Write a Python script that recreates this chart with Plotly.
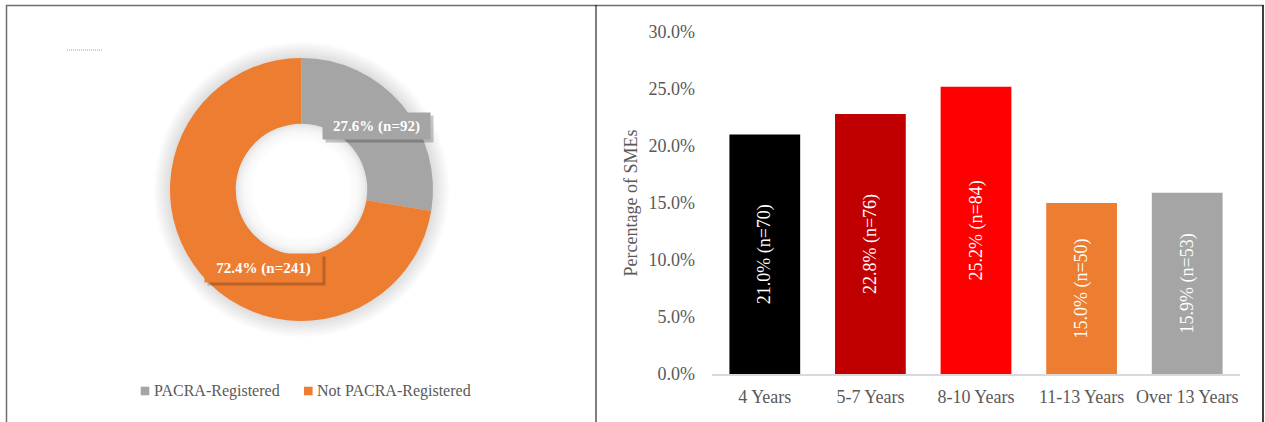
import plotly.graph_objects as go

W, H = 1265, 422

# ---------------- data ----------------
pie_labels = ["PACRA-Registered", "Not PACRA-Registered"]
pie_counts = [92, 241]
pie_pct = [27.6, 72.4]
pie_colors = ["#A5A5A5", "#ED7D31"]

bar_categories = ["4 Years", "5-7 Years", "8-10 Years", "11-13 Years", "Over 13 Years"]
bar_pct = [21.0, 22.8, 25.2, 15.0, 15.9]
bar_n = [70, 76, 84, 50, 53]
bar_colors = ["#000000", "#C00000", "#FF0000", "#ED7D31", "#A5A5A5"]
y_ticks = [0.0, 5.0, 10.0, 15.0, 20.0, 25.0, 30.0]

FONT = "Liberation Serif, Times New Roman, serif"
GREY_TXT = "#595959"


def px(x):
    return x / W


def py(y):
    return 1 - y / H


fig = go.Figure()

# ---------------- donut ----------------
cx, cy, R, r = 301.5, 189.5, 131.5, 65.8
fig.add_trace(go.Pie(
    labels=pie_labels,
    values=pie_counts,
    marker=dict(colors=pie_colors, line=dict(width=0)),
    hole=r / R,
    sort=False,
    direction="clockwise",
    rotation=0,
    textinfo="none",
    showlegend=False,
    domain=dict(x=[px(cx - R), px(cx + R)], y=[py(cy + R), py(cy - R)]),
))

shapes = []


def circle(rr, color):
    return dict(type="circle", xref="paper", yref="paper",
                x0=px(cx - rr), x1=px(cx + rr), y0=py(cy + rr), y1=py(cy - rr),
                fillcolor=color, line=dict(width=0), layer="below")


# soft glow around donut
for k in range(16, -1, -2):
    shapes.append(circle(R + k, "rgba(0,0,0,0.014)"))
# inner glow inside hole
for k in range(0, 16, 2):
    shapes.append(circle(r - k, "rgba(255,255,255,0.28)"))
shapes.append(circle(r - 16, "#FFFFFF"))

annotations = []

# data labels on donut (with drop shadow)
label_boxes = [
    dict(cxl=376.5, cyl=126, w=107, h=26),
    dict(cxl=263.5, cyl=267.5, w=117, h=28),
]
for i, b in enumerate(label_boxes):
    txt = f"<b>{pie_pct[i]:.1f}% (n={pie_counts[i]})</b>"
    annotations.append(dict(
        x=px(b["cxl"] + 3), y=py(b["cyl"] + 3), xref="paper", yref="paper",
        text=" ", showarrow=False, width=b["w"], height=b["h"], borderpad=0,
        bgcolor="rgba(0,0,0,0.22)", xanchor="center", yanchor="middle"))
    annotations.append(dict(
        x=px(b["cxl"]), y=py(b["cyl"]), xref="paper", yref="paper",
        text=txt, showarrow=False, width=b["w"], height=b["h"], borderpad=0,
        bgcolor=pie_colors[i], font=dict(family=FONT, size=15, color="white"),
        xanchor="center", yanchor="middle"))

# manual legend
legend_pos = [(140.7, 151.7), (304.0, 315.0)]
for i, (sx, tx) in enumerate(legend_pos):
    shapes.append(dict(type="rect", xref="paper", yref="paper",
                       x0=px(sx), x1=px(sx + 8.6), y0=py(395.3), y1=py(386.7),
                       fillcolor=pie_colors[i], line=dict(width=0)))
    annotations.append(dict(x=px(tx), y=py(391), xref="paper", yref="paper",
                            text=pie_labels[i], showarrow=False,
                            xanchor="left", yanchor="middle",
                            font=dict(family=FONT, size=16, color=GREY_TXT)))

# dotted line top-left
shapes.append(dict(type="line", xref="paper", yref="paper",
                   x0=px(67), x1=px(102), y0=py(50), y1=py(50),
                   line=dict(color="#9A9A9A", width=1, dash="1px,1px")))

# ---------------- bar chart ----------------
fig.add_trace(go.Bar(
    x=bar_categories,
    y=[p / 100 for p in bar_pct],
    marker=dict(color=bar_colors, line=dict(width=0)),
    text=[f"{p:.1f}% (n={n})" for p, n in zip(bar_pct, bar_n)],
    textposition="inside",
    insidetextanchor="middle",
    textangle=-90,
    textfont=dict(family=FONT, size=18, color="white"),
    constraintext="none",
    showlegend=False,
    hoverinfo="skip",
    xaxis="x", yaxis="y",
))

fig.update_layout(
    width=W, height=H,
    margin=dict(l=0, r=0, t=0, b=0, pad=0),
    paper_bgcolor="white",
    plot_bgcolor="rgba(0,0,0,0)",
    bargap=0.33,
    showlegend=False,
    font=dict(family=FONT, color=GREY_TXT),
    xaxis=dict(
        domain=[px(712), px(1240)],
        automargin=False,
        showgrid=False, zeroline=False,
        showline=True, linecolor="#D9D9D9", linewidth=1.5,
        ticks="", ticklabelstandoff=6,
        tickfont=dict(family=FONT, size=18, color=GREY_TXT),
        fixedrange=True,
    ),
    yaxis=dict(
        domain=[py(374), py(32)],
        automargin=False,
        range=[0, 0.30],
        tickvals=[v / 100 for v in y_ticks],
        ticktext=[f"{v:.1f}%" for v in y_ticks],
        showgrid=False, zeroline=False, showline=False,
        ticks="", ticklabelstandoff=16,
        tickfont=dict(family=FONT, size=18, color=GREY_TXT),
        title=dict(text="Percentage of SMEs", standoff=6,
                   font=dict(family=FONT, size=18, color=GREY_TXT)),
        fixedrange=True,
    ),
)

# ---------------- frame ----------------
shapes += [
    dict(type="line", xref="paper", yref="paper", x0=px(6), x1=px(1263.5), y0=py(5.5), y1=py(5.5),
         line=dict(color="#6E6E6E", width=1.5), layer="above"),
    dict(type="line", xref="paper", yref="paper", x0=px(6.5), x1=px(6.5), y0=py(5), y1=0,
         line=dict(color="#6E6E6E", width=1.5), layer="above"),
    dict(type="line", xref="paper", yref="paper", x0=px(596), x1=px(596), y0=py(5), y1=0,
         line=dict(color="#000000", width=1), layer="above"),
    dict(type="line", xref="paper", yref="paper", x0=px(1263), x1=px(1263), y0=py(5), y1=0,
         line=dict(color="#000000", width=1.5), layer="above"),
]

fig.update_layout(shapes=shapes, annotations=annotations)
fig.write_html("out.html", config={"displayModeBar": False},
               post_script="document.body.style.margin='0px';document.body.style.overflow='hidden';")
